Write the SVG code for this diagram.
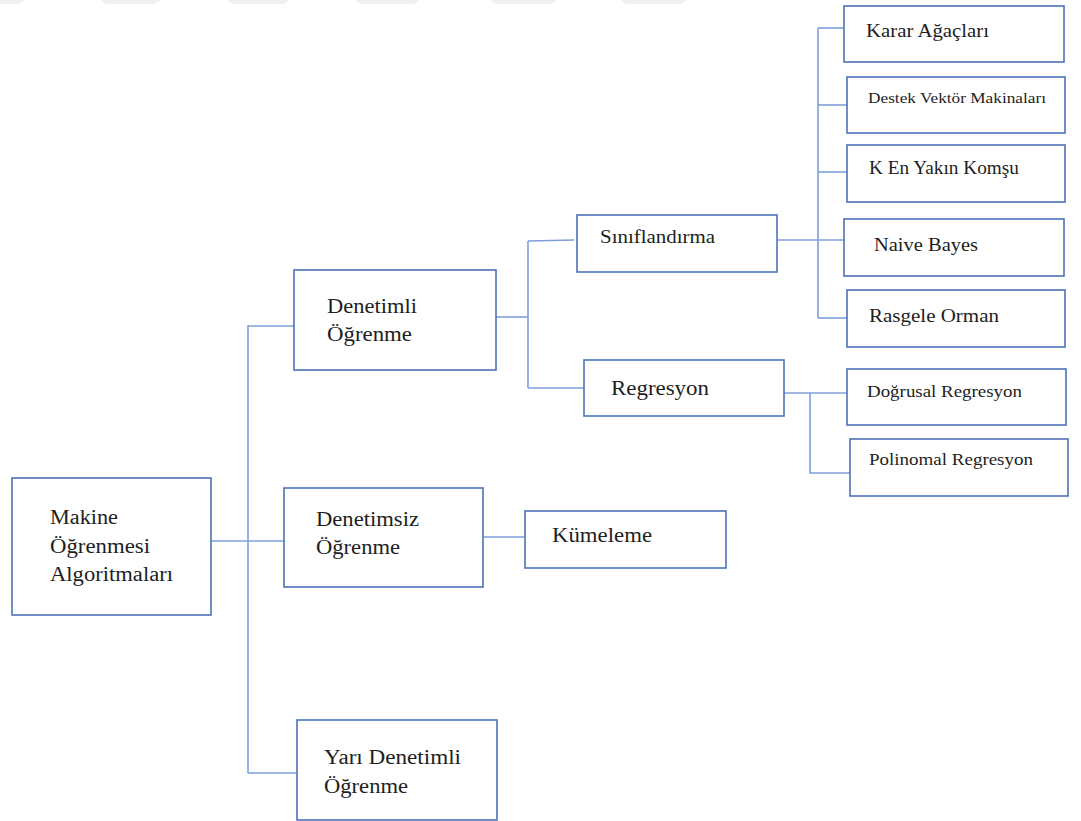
<svg xmlns="http://www.w3.org/2000/svg" width="1081" height="821" viewBox="0 0 1081 821">
  <style>
    .box { fill: #ffffff; stroke: #4f72b8; stroke-width: 1.6; }
    .lnk { fill: none; stroke: #7e9fda; stroke-width: 1.6; }
    .lbl { font-family: "Liberation Serif", "DejaVu Serif", serif; fill: #1e1e1e; }
    .wm { fill: #f0f0f0; }
  </style>
  <rect width="1081" height="821" fill="#ffffff"/>

  <!-- faint band along the top edge -->
  <g id="top-band">
    <polygon class="wm" points="-20,0 25,0 19,4 -14,4"/>
    <polygon class="wm" points="100,0 160,0 154,4 106,4"/>
    <polygon class="wm" points="227,0 290,0 284,4 233,4"/>
    <polygon class="wm" points="355,0 420,0 414,4 361,4"/>
    <polygon class="wm" points="490,0 557,0 551,4 496,4"/>
    <polygon class="wm" points="620,0 687,0 681,4 626,4"/>
  </g>

  <!-- connectors -->
  <g id="connectors">
    <!-- root trunk -->
    <path class="lnk" d="M211,541 H284"/>
    <path class="lnk" d="M248,325 V773"/>
    <path class="lnk" d="M248,326 H294"/>
    <path class="lnk" d="M248,773 H297"/>
    <!-- supervised branch -->
    <path class="lnk" d="M496,317 H528"/>
    <path class="lnk" d="M528,241 V388"/>
    <path class="lnk" d="M528,241 L574,240"/>
    <path class="lnk" d="M528,388 H584"/>
    <!-- classification leaves -->
    <path class="lnk" d="M777,240 H844"/>
    <path class="lnk" d="M818,28 V318"/>
    <path class="lnk" d="M818,28 H844"/>
    <path class="lnk" d="M818,105 H847"/>
    <path class="lnk" d="M818,172 H847"/>
    <path class="lnk" d="M818,318 H847"/>
    <!-- regression leaves -->
    <path class="lnk" d="M784,393 H847"/>
    <path class="lnk" d="M810,393 V473 H850"/>
    <!-- unsupervised branch -->
    <path class="lnk" d="M483,537 H525"/>
  </g>

  <g id="node-root">
    <rect class="box" x="12" y="478" width="199" height="137"/>
    <text class="lbl" font-size="20" x="50" y="524" textLength="68" lengthAdjust="spacingAndGlyphs">Makine</text>
    <text class="lbl" font-size="20" x="50" y="553" textLength="100" lengthAdjust="spacingAndGlyphs">Öğrenmesi</text>
    <text class="lbl" font-size="20" x="50" y="581" textLength="123" lengthAdjust="spacingAndGlyphs">Algoritmaları</text>
  </g>

  <g id="node-supervised">
    <rect class="box" x="294" y="270" width="202" height="100"/>
    <text class="lbl" font-size="20" x="327" y="313" textLength="90" lengthAdjust="spacingAndGlyphs">Denetimli</text>
    <text class="lbl" font-size="20" x="327" y="341" textLength="85" lengthAdjust="spacingAndGlyphs">Öğrenme</text>
  </g>

  <g id="node-unsupervised">
    <rect class="box" x="284" y="488" width="199" height="99"/>
    <text class="lbl" font-size="20" x="316" y="526" textLength="103" lengthAdjust="spacingAndGlyphs">Denetimsiz</text>
    <text class="lbl" font-size="20" x="316" y="554" textLength="84" lengthAdjust="spacingAndGlyphs">Öğrenme</text>
  </g>

  <g id="node-semi">
    <rect class="box" x="297" y="720" width="200" height="100"/>
    <text class="lbl" font-size="20" x="324" y="764" textLength="137" lengthAdjust="spacingAndGlyphs">Yarı Denetimli</text>
    <text class="lbl" font-size="20" x="324" y="793" textLength="84" lengthAdjust="spacingAndGlyphs">Öğrenme</text>
  </g>

  <g id="node-classification">
    <rect class="box" x="577" y="215" width="200" height="57"/>
    <text class="lbl" font-size="19" x="600" y="243" textLength="115" lengthAdjust="spacingAndGlyphs">Sınıflandırma</text>
  </g>

  <g id="node-regression">
    <rect class="box" x="584" y="360" width="200" height="56"/>
    <text class="lbl" font-size="20" x="611" y="395" textLength="98" lengthAdjust="spacingAndGlyphs">Regresyon</text>
  </g>

  <g id="node-clustering">
    <rect class="box" x="525" y="511" width="201" height="57"/>
    <text class="lbl" font-size="20" x="552" y="542" textLength="100" lengthAdjust="spacingAndGlyphs">Kümeleme</text>
  </g>

  <g id="node-decision-trees">
    <rect class="box" x="844" y="6" width="220" height="56"/>
    <text class="lbl" font-size="19" x="866" y="37" textLength="123" lengthAdjust="spacingAndGlyphs">Karar Ağaçları</text>
  </g>

  <g id="node-svm">
    <rect class="box" x="847" y="77" width="218" height="56"/>
    <text class="lbl" font-size="15" x="868" y="103" textLength="178" lengthAdjust="spacingAndGlyphs">Destek Vektör Makinaları</text>
  </g>

  <g id="node-knn">
    <rect class="box" x="847" y="145" width="218" height="57"/>
    <text class="lbl" font-size="18" x="869" y="174" textLength="150" lengthAdjust="spacingAndGlyphs">K En Yakın Komşu</text>
  </g>

  <g id="node-naive-bayes">
    <rect class="box" x="844" y="219" width="220" height="57"/>
    <text class="lbl" font-size="19" x="874" y="251" textLength="104" lengthAdjust="spacingAndGlyphs">Naive Bayes</text>
  </g>

  <g id="node-random-forest">
    <rect class="box" x="847" y="290" width="218" height="57"/>
    <text class="lbl" font-size="19" x="869" y="322" textLength="130" lengthAdjust="spacingAndGlyphs">Rasgele Orman</text>
  </g>

  <g id="node-linear">
    <rect class="box" x="847" y="369" width="219" height="56"/>
    <text class="lbl" font-size="17" x="867" y="397" textLength="155" lengthAdjust="spacingAndGlyphs">Doğrusal Regresyon</text>
  </g>

  <g id="node-polynomial">
    <rect class="box" x="850" y="439" width="218" height="57"/>
    <text class="lbl" font-size="17" x="869" y="465" textLength="164" lengthAdjust="spacingAndGlyphs">Polinomal Regresyon</text>
  </g>
</svg>
